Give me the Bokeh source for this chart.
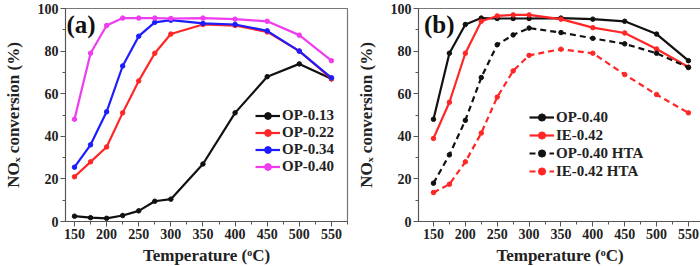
from bokeh.plotting import figure
from bokeh.models import Range1d, Legend, LegendItem, Label, FixedTicker
from bokeh.layouts import row
from bokeh.embed import file_html
from bokeh.resources import INLINE

temps = [150, 175, 200, 225, 250, 275, 300, 350, 400, 450, 500, 550]

# Panel (a)
op013 = [2.5, 1.8, 1.5, 2.8, 5.0, 9.5, 10.5, 27.0, 51.0, 68.0, 74.0, 67.0]
op022 = [21.0, 28.0, 35.0, 51.0, 66.0, 79.0, 88.0, 92.5, 92.0, 89.0, 80.0, 67.0]
op034 = [25.5, 36.0, 51.5, 73.0, 87.0, 93.5, 94.5, 93.0, 92.5, 89.5, 80.0, 67.5]
op040 = [48.0, 79.0, 92.0, 95.5, 95.5, 95.5, 95.3, 95.5, 95.0, 94.0, 87.5, 75.5]

# Panel (b)
b_op040 = [48.0, 79.0, 92.5, 95.5, 95.3, 95.3, 95.3, 95.5, 95.0, 94.0, 88.0, 75.5]
b_ie042 = [39.0, 56.0, 79.0, 94.0, 96.5, 97.0, 97.0, 95.0, 91.0, 88.5, 81.0, 72.5]
b_op040_hta = [18.0, 31.3, 47.5, 67.6, 83.0, 87.6, 90.8, 88.7, 86.0, 83.4, 79.0, 72.3]
b_ie042_hta = [13.6, 17.5, 28.0, 41.5, 58.4, 70.7, 78.0, 80.9, 79.0, 69.0, 59.6, 51.0]

x_ticks = [150, 200, 250, 300, 350, 400, 450, 500, 550]
y_ticks = [0, 20, 40, 60, 80, 100]

FONT = "Liberation Serif"
BLACK = "#111111"
RED = "#ff2626"
BLUE = "#1c1cff"
MAGENTA = "#f03cf0"


def make_fig(xr, border_left, border_right, frame_w):
    p = figure(output_backend="svg", toolbar_location=None,
               frame_width=frame_w, frame_height=213,
               min_border_left=border_left, min_border_right=border_right,
               min_border_top=8, min_border_bottom=45,
               x_range=Range1d(*xr), y_range=Range1d(0, 100))
    p.grid.visible = False
    p.outline_line_color = "#777777"
    p.outline_line_width = 1.2
    p.background_fill_color = "white"
    p.border_fill_color = "white"
    p.xaxis.ticker = FixedTicker(ticks=x_ticks, minor_ticks=list(range(125, 576, 25)))
    p.yaxis.ticker = FixedTicker(ticks=y_ticks, minor_ticks=list(range(0, 101, 10)))
    for ax in (p.xaxis[0], p.yaxis[0]):
        ax.axis_line_color = "#555555"
        ax.major_tick_line_color = "#555555"
        ax.minor_tick_line_color = "#555555"
        ax.major_tick_out = 5
        ax.major_tick_in = 0
        ax.minor_tick_out = 3
        ax.minor_tick_in = 0
        ax.major_label_text_font = FONT
        ax.major_label_text_font_style = "bold"
        ax.major_label_text_font_size = "14px"
        ax.major_label_text_color = "#222222"
        ax.axis_label_text_font = FONT
        ax.axis_label_text_font_style = "bold"
        ax.axis_label_text_font_size = "17px"
        ax.axis_label_text_color = "#222222"
    p.xaxis.axis_label = "Temperature (ᵒC)"
    p.yaxis.axis_label = "NOₓ conversion (%)"
    p.xaxis.major_label_standoff = 2
    p.yaxis.major_label_standoff = 2
    p.xaxis.axis_label_standoff = 4
    p.yaxis.axis_label_standoff = 12
    return p


def add_series(p, ys, color, label, items, dash="solid"):
    r1 = p.line(temps, ys, line_color=color, line_width=2.2, line_dash=dash)
    r2 = p.scatter(temps, ys, marker="circle", size=4.5, fill_color=color,
                   line_color=color, line_width=1)
    items.append(LegendItem(label=label, renderers=[r1, r2]))


def make_legend(items, loc, row_h):
    lg = Legend(items=items, location=loc, orientation="vertical",
                background_fill_alpha=0, border_line_alpha=0,
                padding=0, margin=0, spacing=0,
                glyph_width=25, glyph_height=row_h, label_height=row_h,
                label_standoff=2,
                label_text_font=FONT, label_text_font_style="bold",
                label_text_font_size="15px", label_text_color="#222222")
    return lg


# ---- Panel (a)
pa = make_fig((136, 575), 62, 6, 282)
items_a = []
add_series(pa, op013, BLACK, "OP-0.13", items_a)
add_series(pa, op022, RED, "OP-0.22", items_a)
add_series(pa, op034, BLUE, "OP-0.34", items_a)
add_series(pa, op040, MAGENTA, "OP-0.40", items_a)
pa.add_layout(make_legend(items_a, (190, 46), 17), "center")
pa.add_layout(Label(x=137.5, y=99, text="(a)", text_font=FONT,
                    text_font_style="bold", text_font_size="25px",
                    text_baseline="top", text_color="#111111"))

# ---- Panel (b)
pb = make_fig((126.5, 570.5), 62, 5, 283)
items_b = []
add_series(pb, b_op040, BLACK, "OP-0.40", items_b)
add_series(pb, b_ie042, RED, "IE-0.42", items_b)
add_series(pb, b_op040_hta, BLACK, "OP-0.40 HTA", items_b, dash="6 4")
add_series(pb, b_ie042_hta, RED, "IE-0.42 HTA", items_b, dash="6 4")
pb.add_layout(make_legend(items_b, (111, 41), 18), "center")
pb.add_layout(Label(x=135, y=99, text="(b)", text_font=FONT,
                    text_font_style="bold", text_font_size="25px",
                    text_baseline="top", text_color="#111111"))

layout = row(pa, pb, spacing=0)
open("out.html", "w").write(file_html(layout, INLINE))
